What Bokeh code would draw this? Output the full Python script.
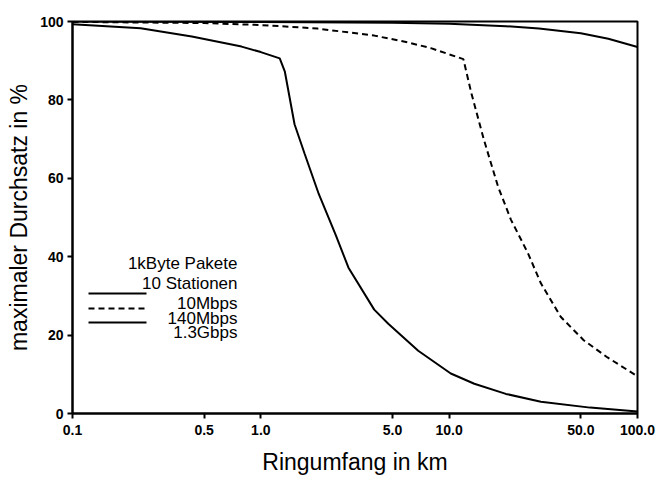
from bokeh.plotting import figure
from bokeh.models import FixedTicker, Label, Arrow
from bokeh.embed import file_html
from bokeh.resources import INLINE

# Ring circumference (km) and max throughput (%)
x_10m = [0.1, 1.0, 5.0, 10.0, 20.0, 30.0, 50.0, 70.0, 100.0]
y_10m = [100.0, 99.9, 99.7, 99.4, 98.8, 98.2, 97.0, 95.6, 93.5]

x_140m = [0.1, 0.5, 1.0, 2.0, 4.0, 6.0, 8.0, 11.9, 13.1, 15.3, 18.2, 21.3,
          26.2, 30.7, 39.2, 51.8, 69.3, 100.0]
y_140m = [99.9, 99.6, 99.1, 98.2, 96.4, 94.7, 93.2, 90.4, 81.8, 69.8, 57.8,
          49.4, 40.9, 33.2, 24.6, 18.7, 14.3, 9.5]

x_13g = [0.1, 0.23, 0.43, 0.79, 1.0, 1.26, 1.34, 1.51, 1.71, 2.03, 2.5,
         2.92, 4.0, 4.75, 6.85, 10.2, 13.6, 20.0, 30.7, 56.0, 100.0]
y_13g = [99.3, 98.3, 96.2, 93.6, 92.2, 90.6, 87.3, 73.8, 66.2, 56.0,
         45.5, 37.2, 26.5, 22.9, 16.0, 10.2, 7.6, 5.0, 3.0, 1.5, 0.5]

x_ticks = [0.1, 0.5, 1.0, 5.0, 10.0, 50.0, 100.0]
x_tick_labels = ["0.1", "0.5", "1.0", "5.0", "10.0", "50.0", "100.0"]
y_ticks = [0, 20, 40, 60, 80, 100]

legend_header = ["1kByte Pakete", "10 Stationen"]
series_names = ["10Mbps", "140Mbps", "1.3Gbps"]

FONT = "Liberation Sans"

p = figure(width=656, height=481, x_axis_type="log", x_range=(0.1, 100),
           y_range=(0, 100), output_backend="svg", toolbar_location=None,
           min_border_left=72, min_border_right=19, min_border_top=21,
           min_border_bottom=68)
p.background_fill_color = "white"
p.border_fill_color = "white"
p.outline_line_color = "black"
p.outline_line_width = 2
p.xgrid.visible = False
p.ygrid.visible = False

p.line(x_10m, y_10m, line_color="black", line_width=2)
p.line(x_140m, y_140m, line_color="black", line_width=2, line_dash="6 4")
p.line(x_13g, y_13g, line_color="black", line_width=2)

for ax in (p.xaxis[0], p.yaxis[0]):
    ax.axis_line_width = 2
    ax.axis_line_color = "black"
    ax.major_tick_line_width = 2
    ax.major_tick_line_color = "black"
    ax.major_tick_out = 5
    ax.major_tick_in = 0
    ax.minor_tick_line_color = None
    ax.major_label_text_font = FONT
    ax.major_label_text_font_style = "bold"
    ax.major_label_text_font_size = "14px"
    ax.major_label_text_color = "black"
    ax.axis_label_text_font = FONT
    ax.axis_label_text_font_style = "normal"
    ax.axis_label_text_font_size = "23px"
    ax.axis_label_text_color = "black"

p.xaxis.ticker = FixedTicker(ticks=x_ticks)
p.xaxis.major_label_overrides = {t: l for t, l in zip(x_ticks, x_tick_labels)}
p.xaxis.major_label_standoff = 6
p.xaxis.axis_label = "Ringumfang in km"
p.xaxis.axis_label_standoff = 11

p.yaxis.ticker = FixedTicker(ticks=y_ticks)
p.yaxis.major_label_standoff = 4
p.yaxis.axis_label = "maximaler Durchsatz in %"
p.yaxis.axis_label_standoff = 5

# legend block (screen units relative to the frame, y measured upward)
for txt, sy in zip(legend_header, [150, 130]):
    p.add_layout(Label(x=165, y=sy, x_units="screen", y_units="screen",
                       text=txt, text_align="right",
                       text_baseline="alphabetic", text_font=FONT,
                       text_font_size="17px", text_color="black"))
for name, sy, dash in zip(series_names, [110, 95, 81],
                          ["solid", "6 4", "solid"]):
    p.add_layout(Label(x=165, y=sy, x_units="screen", y_units="screen",
                       text=name, text_align="right",
                       text_baseline="alphabetic", text_font=FONT,
                       text_font_size="17px", text_color="black"))
    p.add_layout(Arrow(start=None, end=None, x_start=16, y_start=sy + 10,
                       x_end=74, y_end=sy + 10, start_units="screen",
                       end_units="screen", line_color="black",
                       line_width=2, line_dash=dash))

open("out.html", "w").write(file_html(p, INLINE))
